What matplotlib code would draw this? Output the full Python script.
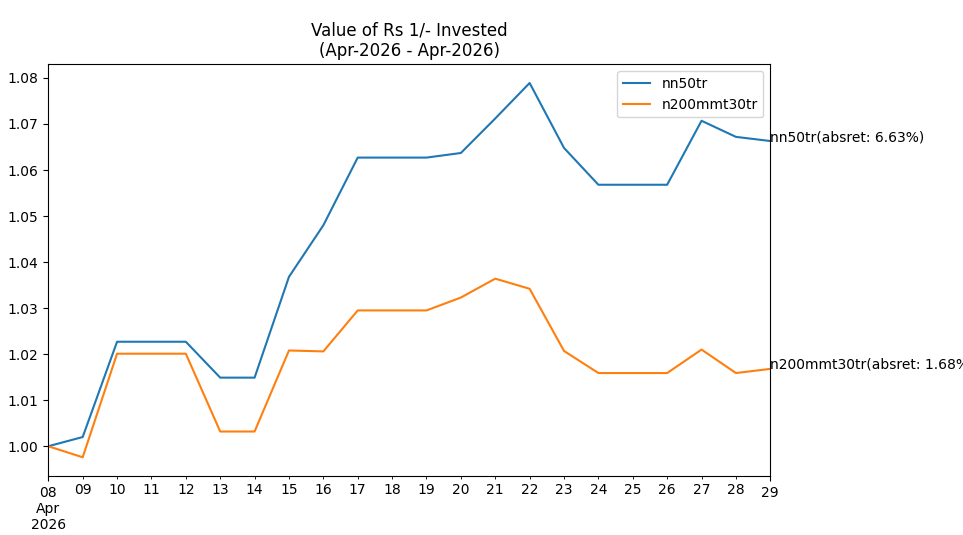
import matplotlib
matplotlib.use("Agg")
import matplotlib.pyplot as plt
import pandas as pd

dates = pd.date_range("2026-04-08", "2026-04-29", freq="D")
nn50tr = [1.0000, 1.0020, 1.0227, 1.0227, 1.0227, 1.0149, 1.0149, 1.0368,
          1.0480, 1.0627, 1.0627, 1.0627, 1.0637, 1.0712, 1.0789, 1.0648,
          1.0568, 1.0568, 1.0568, 1.0707, 1.0672, 1.0663]
n200mmt30tr = [1.0000, 0.9976, 1.0201, 1.0201, 1.0201, 1.0032, 1.0032, 1.0208,
               1.0206, 1.0295, 1.0295, 1.0295, 1.0323, 1.0364, 1.0342, 1.0207,
               1.0159, 1.0159, 1.0159, 1.0210, 1.0159, 1.0168]
title = "Value of Rs 1/- Invested\n(Apr-2026 - Apr-2026)"

df = pd.DataFrame({"nn50tr": nn50tr, "n200mmt30tr": n200mmt30tr}, index=dates)

fig = plt.figure(figsize=(9.63, 5.35), dpi=100)
ax = fig.add_axes([48.3 / 963, 1 - 476 / 535, (770.3 - 48.3) / 963, (476 - 64.3) / 535])
df.plot(ax=ax)
ax.set_title(title)
ax.set_xlabel("")
ax.legend(loc="upper right")
for col in df.columns:
    last = df[col].iloc[-1]
    ax.text(df.index[-1], last, f"{col}(absret: {(last - 1) * 100:.2f}%)")

fig.savefig("out.png", dpi=100)
